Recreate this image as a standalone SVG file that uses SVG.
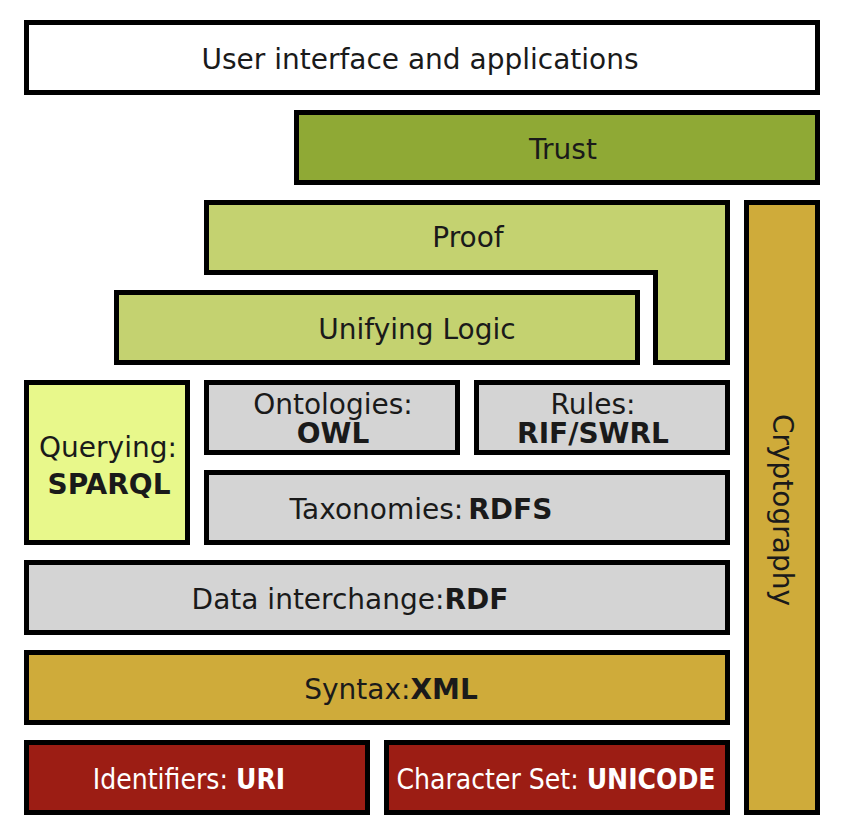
<svg xmlns="http://www.w3.org/2000/svg" width="842" height="836" viewBox="0 0 842 836">
<style>
.b{stroke:#000;stroke-width:5;stroke-linejoin:miter}
.t{font-family:"DejaVu Sans","Liberation Sans",sans-serif;font-size:28px;fill:#1a1a1a;text-anchor:middle}
.w{fill:#fff}
.c{font-family:"DejaVu Sans Condensed","DejaVu Sans",sans-serif;font-stretch:condensed}
.bd{font-weight:bold}
.white{fill:#ffffff}
.trust{fill:#8fa935}
.proof{fill:#c4d270}
.query{fill:#e8f88b}
.gray{fill:#d4d4d4}
.gold{fill:#cfab3a}
.red{fill:#9c1d14}
</style>
<rect width="842" height="836" fill="#fff"/>
<g id="user"><rect class="b white" x="26.5" y="22.5" width="791" height="70"/><text class="t" x="420" y="69">User interface and applications</text></g>
<g id="trust"><rect class="b trust" x="296.5" y="112.5" width="521" height="70"/><text class="t" x="563" y="159">Trust</text></g>
<g id="proof"><path class="b proof" d="M206.5,202.5 H727.5 V362.5 H655.5 V272.5 H206.5 Z"/><text class="t" x="468" y="247">Proof</text></g>
<g id="crypto"><rect class="b gold" x="746.5" y="202.5" width="71" height="610"/><text class="t" transform="translate(773,510) rotate(90)" x="0" y="0">Cryptography</text></g>
<g id="logic"><rect class="b proof" x="116.5" y="292.5" width="521" height="70"/><text class="t" x="417" y="339">Unifying Logic</text></g>
<g id="query"><rect class="b query" x="26.5" y="382.5" width="161" height="160"/><text class="t" x="108" y="457">Querying:</text><text class="t bd" x="109" y="494">SPARQL</text></g>
<g id="ontologies"><rect class="b gray" x="206.5" y="382.5" width="251" height="70"/><text class="t" x="333" y="414">Ontologies:</text><text class="t bd" x="333" y="443">OWL</text></g>
<g id="rules"><rect class="b gray" x="476.5" y="382.5" width="251" height="70"/><text class="t" x="593" y="414">Rules:</text><text class="t bd" x="593" y="443">RIF/SWRL</text></g>
<g id="taxonomies"><rect class="b gray" x="206.5" y="472.5" width="521" height="70"/><text class="t" x="421" y="519">Taxonomies:<tspan class="bd" dx="5">RDFS</tspan></text></g>
<g id="rdf"><rect class="b gray" x="26.5" y="562.5" width="701" height="70"/><text class="t" x="350" y="609">Data interchange:<tspan class="bd">RDF</tspan></text></g>
<g id="xml"><rect class="b gold" x="26.5" y="652.5" width="701" height="70"/><text class="t" x="391" y="699">Syntax:<tspan class="bd">XML</tspan></text></g>
<g id="uri"><rect class="b red" x="26.5" y="742.5" width="341" height="70"/><text class="t c w" x="189" y="789">Identifiers: <tspan class="bd">URI</tspan></text></g>
<g id="unicode"><rect class="b red" x="386.5" y="742.5" width="341" height="70"/><text class="t c w" x="556" y="789">Character Set: <tspan class="bd">UNICODE</tspan></text></g>
<g id="connectors"></g>
</svg>
